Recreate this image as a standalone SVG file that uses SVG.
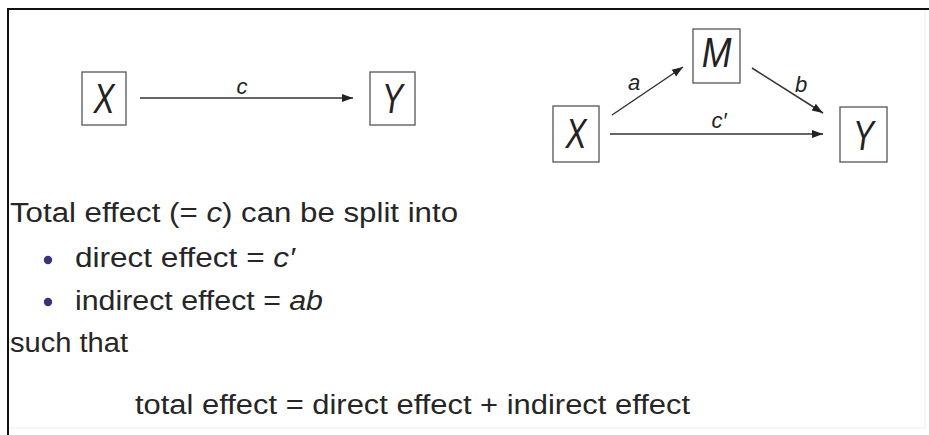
<svg xmlns="http://www.w3.org/2000/svg" width="929" height="435" viewBox="0 0 929 435">
<style>
.box{fill:#fff;stroke:#555;stroke-width:1.3}
.var{font-family:"Liberation Sans",Arial,sans-serif;font-style:italic;font-size:42px;fill:#222;text-anchor:middle}
.lbl{font-family:"Liberation Sans",Arial,sans-serif;font-style:italic;font-size:22px;fill:#222;text-anchor:middle}
.edge{stroke:#333;stroke-width:1.5;fill:none;marker-end:url(#ah)}
.txt{font-family:"Liberation Sans",Arial,sans-serif;font-size:27px;fill:#262626}
.it{font-style:italic}
.bul{fill:#35357a}
</style>
<defs>
<marker id="ah" viewBox="0 0 11 10" refX="11" refY="5" markerWidth="11" markerHeight="10" markerUnits="userSpaceOnUse" orient="auto">
<path d="M0,1 L11,5 L0,9 Z" fill="#222"/>
</marker>
</defs>
<rect width="929" height="435" fill="#fff"/>
<g id="frame">
<path d="M925,9 V428 H8" fill="none" stroke="#ececec" stroke-width="1"/>
<path d="M8,435 V9 H929" fill="none" stroke="#111" stroke-width="2"/>
</g>
<g id="connectors">
<line class="edge" x1="140" y1="98" x2="353" y2="98"/>
<line class="edge" x1="612" y1="115" x2="683" y2="67"/>
<line class="edge" x1="752" y1="68" x2="823" y2="113"/>
<line class="edge" x1="610" y1="134" x2="823" y2="134"/>
<text class="lbl" x="242" y="94">c</text>
<text class="lbl" x="634" y="90">a</text>
<text class="lbl" x="801" y="92">b</text>
<text class="lbl" x="719" y="128">c′</text>
</g>
<g id="node-X1">
<rect class="box" x="82" y="72" width="44" height="53"/>
<text class="var" transform="translate(104,113) scale(0.75,1)">X</text>
</g>
<g id="node-Y1">
<rect class="box" x="370" y="72" width="45" height="53"/>
<text class="var" transform="translate(392.5,113) scale(0.75,1)">Y</text>
</g>
<g id="node-X2">
<rect class="box" x="553" y="106" width="46" height="56"/>
<text class="var" transform="translate(576,148) scale(0.75,1)">X</text>
</g>
<g id="node-M">
<rect class="box" x="693" y="29" width="47" height="54"/>
<text class="var" transform="translate(716.5,67) scale(0.85,1)">M</text>
</g>
<g id="node-Y2">
<rect class="box" x="840" y="107" width="47" height="55"/>
<text class="var" transform="translate(863.5,150) scale(0.75,1)">Y</text>
</g>
<g id="text">
<text class="txt" x="10" y="222" textLength="448" lengthAdjust="spacingAndGlyphs">Total effect (= <tspan class="it">c</tspan>) can be split into</text>
<circle class="bul" cx="48" cy="260" r="4.2"/>
<text class="txt" x="75" y="267" textLength="220" lengthAdjust="spacingAndGlyphs">direct effect = <tspan class="it">c′</tspan></text>
<circle class="bul" cx="48" cy="302" r="4.2"/>
<text class="txt" x="75" y="310" textLength="248" lengthAdjust="spacingAndGlyphs">indirect effect = <tspan class="it">ab</tspan></text>
<text class="txt" x="10" y="352" textLength="118" lengthAdjust="spacingAndGlyphs">such that</text>
<text class="txt" x="135" y="414" textLength="555" lengthAdjust="spacingAndGlyphs">total effect = direct effect + indirect effect</text>
</g>
</svg>
